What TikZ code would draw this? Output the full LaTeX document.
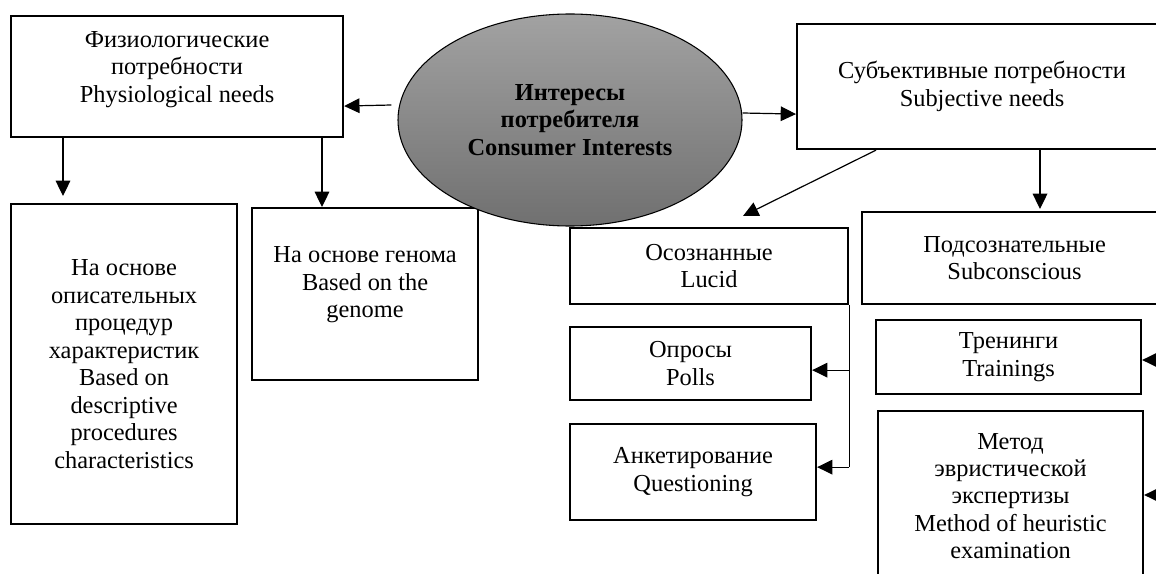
\documentclass[tikz,border=0pt]{standalone}
\usepackage{fontspec}
\setmainfont{Liberation Serif}
\usetikzlibrary{shapes.geometric,arrows.meta}
\begin{document}
\begin{tikzpicture}[x=0.75pt,y=-0.75pt,
  txt/.style={font=\fontsize{18.3}{20.6}\selectfont},
  box/.style={draw, line width=1.6pt, align=center, inner sep=0pt, anchor=north west, txt},
  ell/.style={ellipse, draw, line width=0.8pt, top color={rgb,255:red,162;green,162;blue,162},
    bottom color={rgb,255:red,112;green,112;blue,112}, align=center, inner sep=0pt,
    minimum width=258pt, minimum height=159pt, font=\fontsize{18.3}{20.6}\selectfont\bfseries},
  arr/.style={line width=0.9pt, -{Triangle[length=11.5pt,width=11pt]}},
  ln/.style={line width=0.9pt}]
\useasboundingbox (0,0) rectangle (1156,574);
\fill[white] (0,0) rectangle (1156,574);

% left column
\node[box, minimum width=249pt, minimum height=90.75pt] (phys) at (10,15)
  {Физиологические\\потребности\\Physiological needs\\[-6pt]\mbox{}};
\node[box, minimum width=169.5pt, minimum height=240pt] (desc) at (10,203)
  {На основе\\описательных\\процедур\\характеристик\\Based on\\descriptive\\procedures\\characteristics};
\node[box, minimum width=169.5pt, minimum height=129pt] (gen) at (251,207)
  {На основе генома\\Based on the\\genome\\[-3pt]\mbox{}};

% right column
\node[box, minimum width=277.5pt, minimum height=93.75pt] (subj) at (796,23)
  {Субъективные потребности\\Subjective needs};
\node[box, minimum width=208.5pt, minimum height=57pt] (luc) at (569,227)
  {Осознанные\\Lucid};
\node[box, minimum width=228.75pt, minimum height=69pt] (subc) at (861,211)
  {Подсознательные\\Subconscious};
\node[box, minimum width=180.75pt, minimum height=54.75pt] (pol) at (569,326)
  {Опросы\\Polls};
\node[box, minimum width=184.5pt, minimum height=72pt] (qst) at (569,423)
  {Анкетирование\\Questioning};
\node[box, minimum width=198.75pt, minimum height=55.5pt] (trn) at (875,319)
  {Тренинги\\Trainings};
\node[box, minimum width=198.75pt, minimum height=127.5pt] (mth) at (877,410)
  {Метод\\эвристической\\экспертизы\\Method of heuristic\\examination};

% central ellipse
\node[ell] (e) at (570,120) {Интересы\\потребителя\\Consumer Interests};

% connectors
\draw[arr] ([shift={(-6,-15)}]e.west) -- ([shift={(0,29.5)}]phys.east);
\draw[arr] ([shift={(0,-7)}]e.east) -- ([shift={(0,27.5)}]subj.west);
\draw[arr] ([shift={(53,0)}]phys.south west) -- ([shift={(53,-7)}]desc.north west);
\draw[arr] ([shift={(312,0)}]phys.south west) -- ([shift={(71,0)}]gen.north west);
\draw[arr] ([shift={(80,0)}]subj.south west) -- ([shift={(174,-11)}]luc.north west);
\draw[arr] ([shift={(244,0)}]subj.south west) -- ([shift={(179,-2)}]subc.north west);

\coordinate (j1) at ([shift={(0,65)}]luc.south east);
\coordinate (j2) at ([shift={(0,162)}]luc.south east);
\draw[ln] (luc.south east) -- (j2);
\draw[arr] (j1) -- (j1 -| pol.east);
\draw[arr] (j2) -- (j2 -| qst.east);

\coordinate (r1) at (1185,360);
\coordinate (r2) at (1185,495);
\draw[arr] (r1) -- (r1 -| trn.east);
\draw[arr] (r2) -- (r2 -| mth.east);
\end{tikzpicture}
\end{document}
